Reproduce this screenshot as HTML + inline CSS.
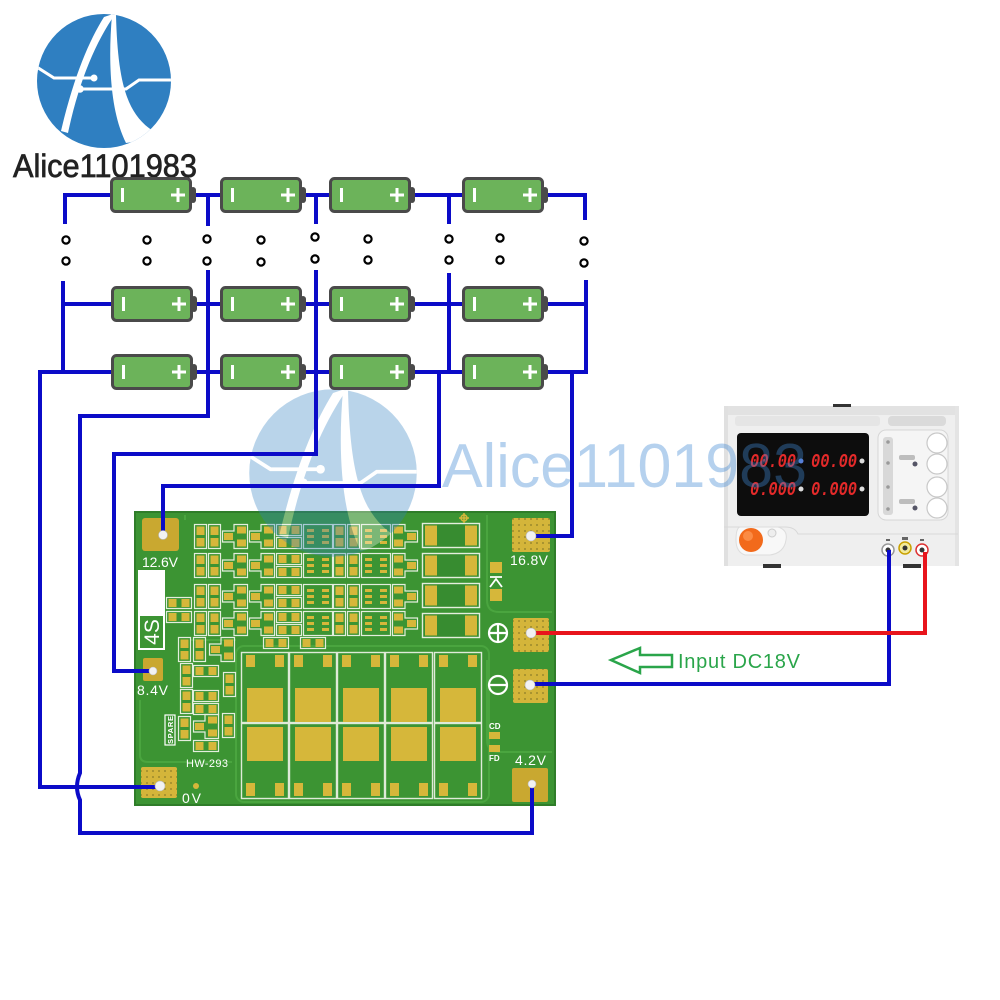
<!DOCTYPE html>
<html><head><meta charset="utf-8"><style>html,body{margin:0;padding:0;background:#fff}svg{display:block}</style></head>
<body>
<svg width="1000" height="1000" viewBox="0 0 1000 1000" xmlns="http://www.w3.org/2000/svg" font-family="'Liberation Sans', sans-serif">
<defs>
<clipPath id="lc"><circle cx="0" cy="0" r="67"/></clipPath>
<pattern id="dp" width="6" height="6" patternUnits="userSpaceOnUse"><rect width="6" height="6" fill="#d4b53a"/><circle cx="3" cy="3" r="1" fill="#9c8a2c"/></pattern>
<g id="lg">
 <circle r="67" fill="#2f7fc1"/>
 <g clip-path="url(#lc)" fill="#fff">
  <path d="M0,-64 C-15,-40 -30,-5 -43,50 L-36,52 C-25,0 -8,-40 12,-68 Z"/>
  <path d="M8,-66 C4,-20 6,30 22,62 L60,56 C25,40 14,10 12,-66 Z"/>
 </g>
 <g stroke="#fff" stroke-width="3" fill="none" clip-path="url(#lc)">
  <path d="M-72,-17 L-50,-3 L-12,-3"/>
  <path d="M-24,8 L22,8 L35,-1 L72,-1"/>
 </g>
 <circle cx="-10" cy="-3" r="3.5" fill="#fff"/>
 <circle cx="-24" cy="8" r="3.8" fill="#fff"/>
</g>
<g id="bat">
 <rect x="1.5" y="1.5" width="79" height="33" rx="4" fill="#6cb35a" stroke="#4a4a4a" stroke-width="3"/>
 <rect x="80" y="10" width="6" height="16" rx="3" fill="#4a4a4a"/>
 <rect x="11" y="11" width="3" height="14" fill="#fff"/>
 <rect x="61" y="16.5" width="14" height="3" fill="#fff"/>
 <rect x="66.5" y="11" width="3" height="14" fill="#fff"/>
</g>
<g id="vp"><rect x="0.5" y="0.5" width="12" height="24" fill="none" stroke="#e4eedd" stroke-width="1.2"/><rect x="2.5" y="2.5" width="8" height="8.5" fill="#d6b73a"/><rect x="2.5" y="14" width="8" height="8.5" fill="#d6b73a"/></g>
<g id="hp"><rect x="0.5" y="0.5" width="25" height="11" fill="none" stroke="#e4eedd" stroke-width="1.2"/><rect x="2.5" y="2" width="8" height="8" fill="#d6b73a"/><rect x="15.5" y="2" width="8" height="8" fill="#d6b73a"/></g>
<g id="ic"><rect x="0.5" y="0.5" width="29" height="24" fill="none" stroke="#e4eedd" stroke-width="1.2"/>
 <g fill="#d6b73a"><rect x="4" y="5" width="7" height="3"/><rect x="4" y="11" width="7" height="3"/><rect x="4" y="17" width="7" height="3"/><rect x="19" y="5" width="7" height="3"/><rect x="19" y="11" width="7" height="3"/><rect x="19" y="17" width="7" height="3"/></g></g>
<g id="tr"><path d="M0.5,7 H12 V0.5 H25.5 V24.5 H12 V18 H0.5 Z" fill="none" stroke="#e4eedd" stroke-width="1.2"/><g fill="#d6b73a"><rect x="2" y="9" width="9" height="7"/><rect x="15" y="2.5" width="9" height="7"/><rect x="15" y="15.5" width="9" height="7"/></g></g>
<g id="tr2"><path d="M0.5,0.5 H13 V7 H25.5 V18 H13 V24.5 H0.5 Z" fill="none" stroke="#e4eedd" stroke-width="1.2"/><g fill="#d6b73a"><rect x="2" y="2.5" width="9" height="7"/><rect x="2" y="15.5" width="9" height="7"/><rect x="15" y="9" width="9" height="7"/></g></g>
<g id="bigr"><rect x="0.5" y="0.5" width="57" height="24" fill="#378c30" stroke="#e4eedd" stroke-width="1.4"/><rect x="3" y="2.5" width="12" height="20" fill="#d6b73a"/><rect x="43" y="2.5" width="12" height="20" fill="#d6b73a"/></g>
<g id="mt"><rect x="0.5" y="0.5" width="47" height="70" fill="none" stroke="#dfead8" stroke-width="1.4"/><g fill="#d6b73a"><rect x="5" y="3" width="9" height="12"/><rect x="34" y="3" width="9" height="12"/><rect x="6" y="36" width="36" height="34"/></g></g>
<g id="mb"><rect x="0.5" y="0.5" width="47" height="75" fill="none" stroke="#dfead8" stroke-width="1.4"/><g fill="#d6b73a"><rect x="6" y="4" width="36" height="34"/><rect x="5" y="60" width="9" height="13"/><rect x="34" y="60" width="9" height="13"/></g></g>
</defs>

<!-- top-left logo -->
<use href="#lg" transform="translate(104,81)"/>
<text x="13" y="177" font-size="32" fill="#222" stroke="#222" stroke-width="0.7" textLength="184" lengthAdjust="spacingAndGlyphs">Alice1101983</text>

<!-- PCB -->
<g>
<rect x="134" y="511" width="422" height="295" fill="#3c9433"/>
<rect x="135" y="512" width="420" height="293" fill="none" stroke="#2f7d29" stroke-width="2"/>
<g fill="none" stroke="#4aa53f" stroke-width="2">
 <rect x="236" y="646" width="253" height="156" rx="8"/>
 <path d="M487,515 V600 Q487,612 499,612 H552"/>
 <path d="M487,660 V740 Q487,752 499,752 H552"/>
 <path d="M140,700 V755 Q140,762 148,762 H232"/>
 <path d="M185,515 V520 M190,640 H236"/>
</g>
<!-- pads -->
<rect x="142" y="518" width="37" height="33" rx="3" fill="#c9a830"/>
<rect x="143" y="658" width="20" height="23" rx="2" fill="#c9a830"/>
<rect x="141" y="767" width="36" height="31" rx="2" fill="url(#dp)"/>
<rect x="512" y="768" width="36" height="34" rx="2" fill="#c9a830"/>
<rect x="513" y="669" width="35" height="34" rx="2" fill="url(#dp)"/>
<rect x="513" y="618" width="36" height="34" rx="2" fill="url(#dp)"/>
<rect x="512" y="518" width="38" height="34" rx="2" fill="url(#dp)"/>
<circle cx="196" cy="786" r="3" fill="#d6b73a"/>
<!-- labels -->
<g fill="#fff" font-size="14">
 <text x="142" y="567" textLength="36">12.6V</text>
 <text x="510" y="565" textLength="38">16.8V</text>
 <text x="137" y="695" textLength="31">8.4V</text>
 <text x="182" y="803" textLength="19">0V</text>
 <text x="515" y="765" textLength="31">4.2V</text>
 <text x="186" y="767" font-size="11" textLength="42">HW-293</text>
 <text x="489" y="729" font-size="8" font-weight="bold">CD</text>
 <text x="489" y="761" font-size="8" font-weight="bold">FD</text>
</g>
<rect x="489" y="732" width="11" height="7" fill="#d6b73a"/>
<rect x="489" y="745" width="11" height="7" fill="#d6b73a"/>
<rect x="138" y="570" width="27" height="45" fill="#fff"/>
<rect x="139" y="615" width="25" height="34" fill="none" stroke="#fff" stroke-width="2"/>
<text transform="translate(159,632) rotate(-90)" text-anchor="middle" font-size="21" fill="#fff">4S</text>
<!-- small components rows -->
<g>
 <use href="#vp" x="194" y="524"/><use href="#vp" x="208" y="524"/><use href="#tr" x="222" y="524"/><use href="#tr" x="249" y="524"/><use href="#hp" x="276" y="524"/><use href="#hp" x="276" y="537"/><use href="#ic" x="303" y="524"/><use href="#vp" x="333" y="524"/><use href="#vp" x="347" y="524"/><use href="#ic" x="361" y="524"/><use href="#tr2" x="392" y="524"/>
 <use href="#vp" x="194" y="553"/><use href="#vp" x="208" y="553"/><use href="#tr" x="222" y="553"/><use href="#tr" x="249" y="553"/><use href="#hp" x="276" y="553"/><use href="#hp" x="276" y="566"/><use href="#ic" x="303" y="553"/><use href="#vp" x="333" y="553"/><use href="#vp" x="347" y="553"/><use href="#ic" x="361" y="553"/><use href="#tr2" x="392" y="553"/>
 <use href="#vp" x="194" y="584"/><use href="#vp" x="208" y="584"/><use href="#tr" x="222" y="584"/><use href="#tr" x="249" y="584"/><use href="#hp" x="276" y="584"/><use href="#hp" x="276" y="597"/><use href="#ic" x="303" y="584"/><use href="#vp" x="333" y="584"/><use href="#vp" x="347" y="584"/><use href="#ic" x="361" y="584"/><use href="#tr2" x="392" y="584"/>
 <use href="#vp" x="194" y="611"/><use href="#vp" x="208" y="611"/><use href="#tr" x="222" y="611"/><use href="#tr" x="249" y="611"/><use href="#hp" x="276" y="611"/><use href="#hp" x="276" y="624"/><use href="#ic" x="303" y="611"/><use href="#vp" x="333" y="611"/><use href="#vp" x="347" y="611"/><use href="#ic" x="361" y="611"/><use href="#tr2" x="392" y="611"/>
 <use href="#hp" x="166" y="597"/><use href="#hp" x="166" y="611"/>
 <use href="#hp" x="263" y="637"/><use href="#hp" x="300" y="637"/>
 <use href="#vp" x="178" y="637"/><use href="#vp" x="193" y="637"/><use href="#tr" x="209" y="637"/>
 <use href="#vp" x="180" y="663"/><use href="#hp" x="193" y="665"/><use href="#vp" x="223" y="672"/>
 <use href="#vp" x="180" y="689"/><use href="#hp" x="193" y="690"/><use href="#hp" x="193" y="703"/>
 <use href="#vp" x="178" y="716"/><use href="#tr" x="193" y="714"/><use href="#vp" x="222" y="713"/><use href="#hp" x="193" y="740"/>
 <rect x="165" y="715" width="10" height="30" fill="none" stroke="#fff" stroke-width="1.2"/>
 <text transform="translate(173,744) rotate(-90)" font-size="7.5" fill="#fff" font-weight="bold" textLength="28">SPARE</text>
</g>
<!-- big resistors -->
<use href="#bigr" x="422" y="523"/><use href="#bigr" x="422" y="553"/><use href="#bigr" x="422" y="583"/><use href="#bigr" x="422" y="613"/>
<!-- mosfets -->
<use href="#mt" x="241" y="652"/><use href="#mt" x="289" y="652"/><use href="#mt" x="337" y="652"/><use href="#mt" x="385" y="652"/><use href="#mt" x="434" y="652"/>
<use href="#mb" x="241" y="723"/><use href="#mb" x="289" y="723"/><use href="#mb" x="337" y="723"/><use href="#mb" x="385" y="723"/><use href="#mb" x="434" y="723"/>
<!-- diode, symbols -->
<rect x="490" y="562" width="12" height="11" fill="#d6b73a"/>
<rect x="490" y="589" width="12" height="12" fill="#d6b73a"/>
<path d="M490,577 H502 M490,587 L496,579 L502,587" stroke="#fff" stroke-width="1.8" fill="none"/>
<g stroke="#fff" stroke-width="2.2" fill="none">
 <circle cx="498" cy="633" r="9"/><path d="M489,633 H507 M498,624 V642"/>
 <circle cx="498" cy="685" r="9"/><path d="M489,685 H507"/>
</g>
<g stroke="#d6b73a" stroke-width="1.5" fill="none"><circle cx="464" cy="518" r="3"/><path d="M459,518 H469 M464,513 V523"/></g>
</g>

<!-- power supply -->
<g>
<rect x="724" y="406" width="235" height="160" fill="#efefef"/>
<rect x="724" y="406" width="235" height="9" fill="#e2e2e2"/>
<rect x="735" y="416" width="145" height="10" rx="3" fill="#e5e5e5"/>
<rect x="833" y="404" width="18" height="3" fill="#333"/>
<rect x="888" y="416" width="58" height="10" rx="4" fill="#dadada"/>
<rect x="724" y="406" width="4" height="160" fill="#e0e0e0"/>
<rect x="955" y="406" width="4" height="160" fill="#e4e4e4"/>
<rect x="737" y="433" width="132" height="83" rx="4" fill="#0d0d0d"/>
<g fill="#e52a2a" font-family="'Liberation Mono', monospace" font-style="italic" font-weight="bold" font-size="19">
 <text x="750" y="467" textLength="46" lengthAdjust="spacingAndGlyphs">00.00</text>
 <text x="811" y="467" textLength="46" lengthAdjust="spacingAndGlyphs">00.00</text>
 <text x="750" y="495" textLength="46" lengthAdjust="spacingAndGlyphs">0.000</text>
 <text x="811" y="495" textLength="46" lengthAdjust="spacingAndGlyphs">0.000</text>
</g>
<circle cx="801" cy="461" r="2.5" fill="#5a7fd8"/><circle cx="862" cy="461" r="2.5" fill="#ddd"/>
<circle cx="801" cy="489" r="2.5" fill="#ddd"/><circle cx="862" cy="489" r="2.5" fill="#ddd"/>
<rect x="878" y="430" width="70" height="90" rx="8" fill="#f5f5f5" stroke="#d6d6d6"/>
<rect x="883" y="437" width="10" height="78" rx="3" fill="#d8d8d8"/>
<g fill="#9a9a9a"><circle cx="888" cy="442" r="1.8"/><circle cx="888" cy="463" r="1.8"/><circle cx="888" cy="487" r="1.8"/><circle cx="888" cy="509" r="1.8"/></g>
<g fill="#fff" stroke="#c8c8c8" stroke-width="1.2">
 <circle cx="937" cy="443" r="10"/><circle cx="937" cy="464" r="10"/><circle cx="937" cy="487" r="10"/><circle cx="937" cy="508" r="10"/>
</g>
<rect x="899" y="455" width="16" height="5" rx="2" fill="#bdbdbd"/><circle cx="915" cy="464" r="2.5" fill="#556"/>
<rect x="899" y="499" width="16" height="5" rx="2" fill="#bdbdbd"/><circle cx="915" cy="508" r="2.5" fill="#556"/>
<path d="M724,527 H785 Q795,527 798,534 H958" stroke="#d8d8d8" fill="none"/>
<path d="M740,527 H778 Q788,530 786,540 Q784,553 770,555 H745 Q736,552 736,540 Q736,528 740,527 Z" fill="#f8f8f8" stroke="#ddd"/>
<circle cx="751" cy="540" r="12" fill="#f26a1b"/>
<circle cx="748" cy="536" r="5" fill="#ff9a55" opacity="0.7"/>
<circle cx="772" cy="533" r="4" fill="#eee" stroke="#ccc"/>
<rect x="763" y="564" width="18" height="4" fill="#333"/>
<rect x="903" y="564" width="18" height="4" fill="#333"/>
<g fill="#666"><rect x="886" y="539" width="4" height="2"/><rect x="902" y="537" width="6" height="3"/><rect x="920" y="539" width="4" height="2"/></g>
<circle cx="888" cy="550" r="6" fill="#fff" stroke="#999" stroke-width="1.5"/><circle cx="888" cy="550" r="2.5" fill="#333"/>
<circle cx="905" cy="548" r="6" fill="#f3ea9a" stroke="#c8a000" stroke-width="1.5"/><circle cx="905" cy="548" r="2.5" fill="#333"/>
<circle cx="922" cy="550" r="6" fill="#fff" stroke="#d33" stroke-width="1.5"/><circle cx="922" cy="550" r="2.5" fill="#333"/>
</g>

<!-- watermark -->
<use href="#lg" transform="translate(333,473) scale(1.25)" opacity="0.33"/>
<text x="442" y="487" font-size="62" fill="#3f88d4" opacity="0.38" textLength="365" lengthAdjust="spacingAndGlyphs">Alice1101983</text>

<!-- wires -->
<g fill="none" stroke="#0b0bc8" stroke-width="4" stroke-linejoin="miter" stroke-linecap="square">
 <path d="M65,222 V195 H585 V218"/>
 <path d="M208,195 V224 M316,195 V222 M449,195 V222"/>
 <path d="M63,283 V372 M63,304 H586 M586,282 V372"/>
 <path d="M449,275 V372"/>
 <path d="M208,272 V416 H80 V773 Q74,787 80,800 V833 H532 V784"/>
 <path d="M316,272 V454 H114 V671 H153"/>
 <path d="M40,787 V372 H586"/>
 <path d="M40,787 H160"/>
 <path d="M439,372 V486 H163 V535"/>
 <path d="M572,372 V536 H531"/>
 <path d="M528,684 H889 V552"/>
</g>
<path d="M528,633 H925 V552" fill="none" stroke="#e8141c" stroke-width="4"/>

<!-- holes -->
<g fill="#f2f2f2" stroke="#b8b8b8" stroke-width="0.6">
 <circle cx="163" cy="535" r="4.5"/><circle cx="153" cy="671" r="4"/><circle cx="160" cy="786" r="5"/><circle cx="532" cy="784" r="4"/>
 <circle cx="530" cy="685" r="5"/><circle cx="531" cy="633" r="5"/><circle cx="531" cy="536" r="5"/>
</g>

<!-- dots -->
<g fill="#fff" stroke="#000" stroke-width="2.2">
 <circle cx="66" cy="240" r="3.6"/><circle cx="66" cy="261" r="3.6"/>
 <circle cx="147" cy="240" r="3.6"/><circle cx="147" cy="261" r="3.6"/>
 <circle cx="207" cy="239" r="3.6"/><circle cx="207" cy="261" r="3.6"/>
 <circle cx="261" cy="240" r="3.6"/><circle cx="261" cy="262" r="3.6"/>
 <circle cx="315" cy="237" r="3.6"/><circle cx="315" cy="259" r="3.6"/>
 <circle cx="368" cy="239" r="3.6"/><circle cx="368" cy="260" r="3.6"/>
 <circle cx="449" cy="239" r="3.6"/><circle cx="449" cy="260" r="3.6"/>
 <circle cx="500" cy="238" r="3.6"/><circle cx="500" cy="260" r="3.6"/>
 <circle cx="584" cy="241" r="3.6"/><circle cx="584" cy="263" r="3.6"/>
</g>

<!-- batteries -->
<use href="#bat" x="110" y="177"/><use href="#bat" x="220" y="177"/><use href="#bat" x="329" y="177"/><use href="#bat" x="462" y="177"/>
<use href="#bat" x="111" y="286"/><use href="#bat" x="220" y="286"/><use href="#bat" x="329" y="286"/><use href="#bat" x="462" y="286"/>
<use href="#bat" x="111" y="354"/><use href="#bat" x="220" y="354"/><use href="#bat" x="329" y="354"/><use href="#bat" x="462" y="354"/>

<!-- input arrow & label -->
<polygon points="611,660 640,648 640,655 672,655 672,667 640,667 640,673" fill="none" stroke="#2aa54a" stroke-width="2.5" stroke-linejoin="miter"/>
<text x="678" y="668" font-size="20" fill="#2aa54a" textLength="122">Input DC18V</text>
</svg>
</body></html>
